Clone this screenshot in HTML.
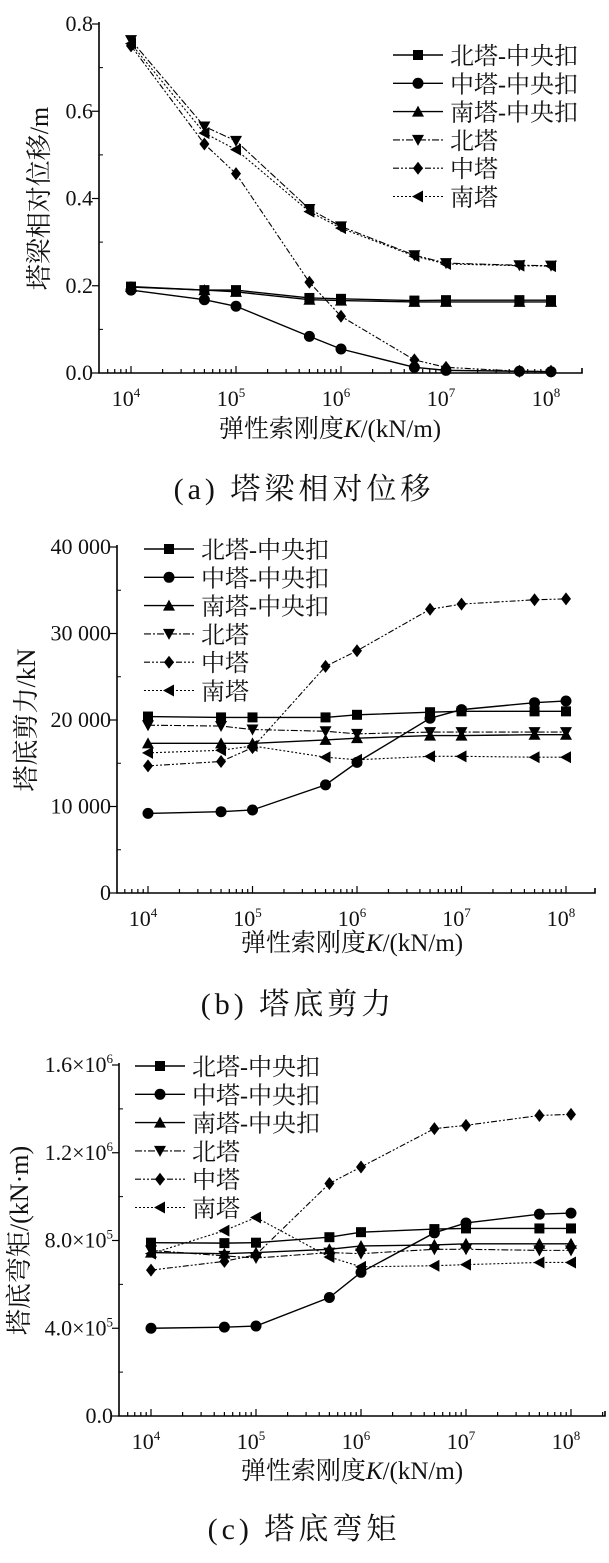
<!DOCTYPE html>
<html><head><meta charset="utf-8">
<style>
body{margin:0;background:#fff;width:609px;height:1563px;overflow:hidden}
svg{display:block}
text{fill:#111}
.tk{font-family:"Liberation Serif",serif;font-size:22px}
.cj{font-family:"Liberation Serif","Noto Serif CJK SC","Noto Sans CJK SC",serif}
</style></head><body>
<svg id="fig" width="609" height="1563" xmlns="http://www.w3.org/2000/svg"></svg>
<script>
const kValues=[1e4,5e4,1e5,5e5,1e6,5e6,1e7,5e7,1e8];
const seriesNames=["北塔-中央扣","中塔-中央扣","南塔-中央扣","北塔","中塔","南塔"];
const dispNorthC=[0.198,0.19,0.19,0.172,0.17,0.166,0.167,0.167,0.167];
const dispMidC=[0.19,0.168,0.153,0.084,0.055,0.013,0.006,0.004,0.003];
const dispSouthC=[0.197,0.19,0.186,0.168,0.166,0.163,0.163,0.163,0.163];
const dispNorth=[0.763,0.565,0.532,0.376,0.336,0.27,0.252,0.247,0.246];
const dispMid=[0.75,0.525,0.457,0.208,0.13,0.03,0.013,0.004,0.004];
const dispSouth=[0.755,0.55,0.512,0.37,0.332,0.268,0.25,0.246,0.245];
const shearNorthC=[20400,20300,20300,20300,20600,20900,21000,21000,21000];
const shearMidC=[9200,9400,9600,12500,15100,20200,21200,22000,22200];
const shearSouthC=[17300,17300,17300,17700,17900,18200,18200,18300,18300];
const shearNorth=[19400,19300,18900,18700,18400,18600,18600,18600,18600];
const shearMid=[14700,15200,16800,26200,28000,32800,33400,33900,34000];
const shearSouth=[16200,16500,17000,15700,15400,15800,15800,15700,15700];
const momNorthC=[790000,788000,790000,815000,838000,852000,855000,855000,855000];
const momMidC=[400000,405000,410000,540000,655000,835000,880000,920000,925000];
const momSouthC=[745000,740000,745000,760000,775000,780000,785000,785000,785000];
const momNorth=[755000,730000,720000,745000,740000,760000,760000,755000,755000];
const momMid=[665000,705000,735000,1060000,1135000,1310000,1325000,1370000,1375000];
const momSouth=[740000,845000,905000,725000,680000,685000,690000,700000,700000];
const ticksA=["0.0","0.2","0.4","0.6","0.8"];
const ticksB=["0","10 000","20 000","30 000","40 000"];
const ticksC=["0.0","4.0×10^5","8.0×10^5","1.2×10^6","1.6×10^6"];
const xExps=[4,5,6,7,8];

const NS="http://www.w3.org/2000/svg";
const fig=document.getElementById('fig');
function mk(tag,attrs,parent){const e=document.createElementNS(NS,tag);for(const k in attrs)e.setAttribute(k,attrs[k]);(parent||fig).appendChild(e);return e;}
const dashes=[null,null,null,"7,2,2,2","6,2,2,2,2,2","2,2"];
const markers=["sq","ci","tu","td","di","tl"];
function marker(g,type,x,y){
  let e;const s=5;
  if(type==="sq")e=mk('rect',{x:x-s,y:y-s,width:2*s,height:2*s},g);
  else if(type==="ci")e=mk('circle',{cx:x,cy:y,r:s+0.5},g);
  else{let p;
    if(type==="tu")p=[[x,y-s-1],[x-s-1,y+s],[x+s+1,y+s]];
    if(type==="td")p=[[x,y+s+1],[x-s-1,y-s],[x+s+1,y-s]];
    if(type==="di")p=[[x,y-s-1.5],[x+s,y],[x,y+s+1.5],[x-s,y]];
    if(type==="tl")p=[[x-s-1,y],[x+s,y-s-1],[x+s,y+s+1]];
    e=mk('polygon',{points:p.map(q=>q.join(',')).join(' ')},g);}
  e.setAttribute('fill','#000');
  
  
}
function chart(cfg){
  const g=mk('g',{});
  
  
  const xs=v=>cfg.x0+(Math.log10(v)-4)*cfg.dec;
  const ys=v=>cfg.yb+(cfg.yt-cfg.yb)*v/cfg.ymax;
  const ax=mk('path',{d:`M${cfg.ax},${cfg.yt-2}V${cfg.yb}H${cfg.xr}V${cfg.yb-5}`,fill:'none',stroke:'#000','stroke-width':1.6},g);
  
  cfg.ticks.forEach((t,i)=>{
    const v=cfg.ymax*i/(cfg.ticks.length-1);const y=ys(v);
    mk('line',{x1:cfg.ax-7,x2:cfg.ax,y1:y,y2:y,stroke:'#000','stroke-width':1.2},g);
    if(i<cfg.ticks.length-1){const ym=ys(v+cfg.ymax/(cfg.ticks.length-1)/2);mk('line',{x1:cfg.ax,x2:cfg.ax+4,y1:ym,y2:ym,stroke:'#000','stroke-width':1},g);}
    const tx=mk('text',{x:cfg.ax-6,y:y+7,'text-anchor':'end',class:'tk'},g);
    
    const parts=t.split('^');tx.textContent=parts[0];
    if(parts[1]){const sp=mk('tspan',{dy:-9,'font-size':13},tx);sp.textContent=parts[1];}
  });
  for(let e=3;e<=8;e++)for(let m=1;m<10;m++){
    const v=m*Math.pow(10,e);const x=xs(v);
    if(x<cfg.ax+2||x>cfg.xr-2)continue;
    mk('line',{x1:x,x2:x,y1:cfg.yb,y2:cfg.yb-(m===1?7:4),stroke:'#000','stroke-width':1.2},g);
  }
  xExps.forEach(e=>{
    const tx=mk('text',{x:xs(Math.pow(10,e))-5,y:cfg.yb+33,'text-anchor':'middle',class:'tk'},g);
    
    tx.textContent='10';const sp=mk('tspan',{dy:-9,'font-size':13},tx);sp.textContent=String(e);
  });
  cfg.series.forEach((arr,si)=>{
    const sg=mk('g',{},g);
    
    const pts=kValues.map((k,i)=>[xs(k),ys(arr[i])]);
    const pl=mk('polyline',{points:pts.map(p=>p.join(',')).join(' '),fill:'none',stroke:'#000','stroke-width':si<3?1.4:1.1},sg);
    if(dashes[si])pl.setAttribute('stroke-dasharray',dashes[si]);
    pts.forEach(p=>marker(sg,markers[si],p[0],p[1]));
  });
  seriesNames.forEach((n,i)=>{
    const lg=mk('g',{},g);
    
    const y=cfg.ly+i*28.3;
    const l=mk('line',{x1:cfg.lx,x2:cfg.lx+50,y1:y,y2:y,stroke:'#000','stroke-width':i<3?1.4:1.1},lg);
    if(dashes[i])l.setAttribute('stroke-dasharray',dashes[i]);
    marker(lg,markers[i],cfg.lx+25,y);
    const t=mk('text',{x:cfg.lx+57,y:y+9,class:'cj','font-size':24},lg);t.textContent=n;
  });
  const yt=mk('text',{x:0,y:0,class:'cj','font-size':26,'text-anchor':'middle',transform:`translate(${cfg.ytx},${(cfg.yt+cfg.yb)/2}) rotate(-90)`},g);
  
  yt.textContent=cfg.ytitle;
  const xt=mk('text',{x:cfg.xtx,y:cfg.xty,class:'cj','font-size':25,'text-anchor':'middle'},g);
  
  xt.appendChild(document.createTextNode('弹性索刚度'));
  const it=mk('tspan',{'font-style':'italic'},xt);it.textContent='K';
  xt.appendChild(document.createTextNode('/(kN/m)'));
  const cp=mk('text',{x:cfg.cx,y:cfg.cy,class:'cj','font-size':30,'text-anchor':'middle','letter-spacing':4},g);
  
  cp.textContent=cfg.caption;
}
chart({name:'chart-displacement',x0:131,dec:105,ax:99,xr:582,yt:24,yb:373,ymax:0.8,ticks:ticksA,
  series:[dispNorthC,dispMidC,dispSouthC,dispNorth,dispMid,dispSouth],lx:393,ly:55,
  ytitle:'塔梁相对位移/m',ytx:48,xtx:330,xty:437,caption:'(a) 塔梁相对位移',cx:304,cy:499});
chart({name:'chart-shear',x0:148,dec:104.5,ax:117,xr:595,yt:547,yb:893,ymax:40000,ticks:ticksB,
  series:[shearNorthC,shearMidC,shearSouthC,shearNorth,shearMid,shearSouth],lx:144,ly:549,
  ytitle:'塔底剪力/kN',ytx:35,xtx:352,xty:951,caption:'(b) 塔底剪力',cx:298,cy:1014});
chart({name:'chart-moment',x0:151,dec:105,ax:119,xr:605,yt:1065,yb:1416,ymax:1600000,ticks:ticksC,
  series:[momNorthC,momMidC,momSouthC,momNorth,momMid,momSouth],lx:135,ly:1066,
  ytitle:'塔底弯矩/(kN·m)',ytx:28,xtx:352,xty:1479,caption:'(c) 塔底弯矩',cx:304,cy:1539});
</script>
</body></html>
